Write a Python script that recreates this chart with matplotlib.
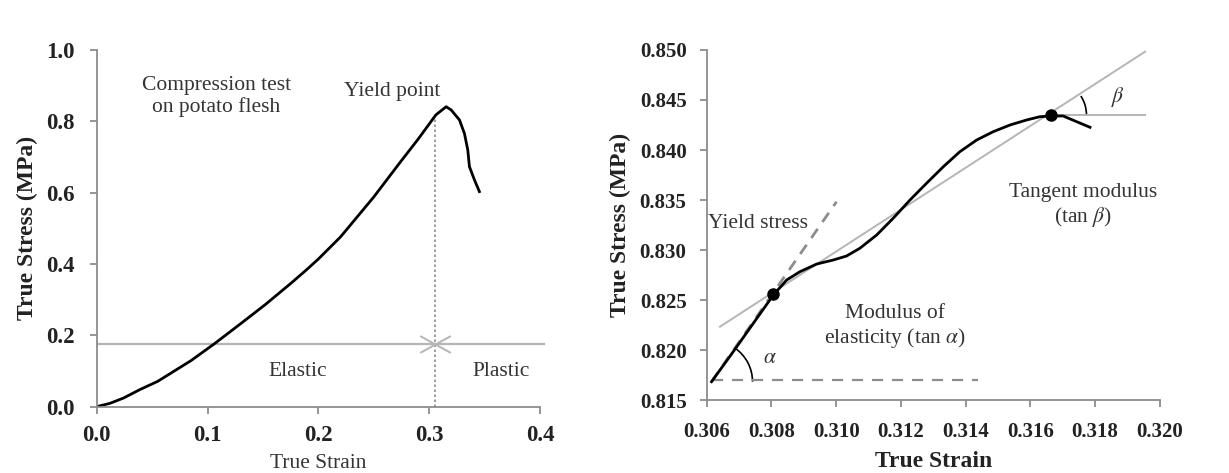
import numpy as np
import matplotlib
matplotlib.use("Agg")
import matplotlib.pyplot as plt
import matplotlib.transforms as mtransforms
from matplotlib.patches import Arc
from matplotlib.path import Path

plt.rcParams['font.family'] = ['Liberation Serif', 'DejaVu Serif']
plt.rcParams['mathtext.fontset'] = 'stix'

# Left panel: full compression curve
strain_full = [0, 0.012, 0.024, 0.039, 0.055, 0.070, 0.085, 0.106, 0.130, 0.152, 0.176,
               0.189, 0.20, 0.22, 0.25, 0.273, 0.29, 0.306, 0.3153, 0.3198, 0.3273,
               0.3318, 0.3348, 0.3363, 0.3408, 0.3453]
stress_full = [0, 0.0095, 0.024, 0.048, 0.071, 0.100, 0.129, 0.176, 0.233, 0.286, 0.348,
               0.383, 0.414, 0.476, 0.588, 0.682, 0.75, 0.818, 0.841, 0.832, 0.804,
               0.766, 0.72, 0.673, 0.636, 0.603]
elastic_limit_stress = 0.177
yield_strain = 0.305
yield_stress_top = 0.81

# Right panel: zoom near yield
strain_zoom = [0.30615, 0.30682, 0.30744, 0.30806, 0.30847, 0.30888, 0.3094, 0.30991,
               0.31032, 0.31073, 0.31125, 0.31176, 0.31228, 0.31279, 0.31331, 0.31382,
               0.31434, 0.31485, 0.31537, 0.31588, 0.31629, 0.31665, 0.31701, 0.31743,
               0.31784]
stress_zoom = [0.81683, 0.81983, 0.82267, 0.8255, 0.8270, 0.82783, 0.8286, 0.8290,
               0.8294, 0.83017, 0.8315, 0.83317, 0.8350, 0.83667, 0.83833, 0.83983,
               0.8410, 0.84183, 0.8425, 0.8430, 0.84333, 0.8434, 0.8434, 0.84283,
               0.84227]
yield_pt = (0.30806, 0.8256)
tangent_pt = (0.31665, 0.8435)
elastic_line_x = [0.30615, 0.31001]
elastic_line_y = [0.81683, 0.83483]
tangent_line_x = [0.30641, 0.31954]
tangent_line_y = [0.82233, 0.84983]
base_y = 0.8170
base_x = [0.30615, 0.31439]
beta_line_x = [0.31665, 0.31954]

GRAY = '#8c8c8c'
LGRAY = '#b5b5b5'
TXT = '#333333'
ANN_FS = 15.5
LAB_FS = 17

fig = plt.figure(figsize=(12.29, 4.73), dpi=100)
ax1 = fig.add_axes([0.0787, 0.1402, 0.3607, 0.7541])
ax2 = fig.add_axes([0.5750, 0.1543, 0.3688, 0.7400])

for ax in (ax1, ax2):
    for s in ('top', 'right'):
        ax.spines[s].set_visible(False)
    for s in ('left', 'bottom'):
        ax.spines[s].set_color(GRAY)
        ax.spines[s].set_linewidth(1.3)
    ax.tick_params(direction='out', length=5, width=1.3, color=GRAY, labelcolor='#222222')

ax1.tick_params(axis='y', labelsize=16.5, pad=11)
ax1.tick_params(axis='x', labelsize=16.5, pad=8)
ax2.tick_params(axis='y', labelsize=15, pad=9.5)
ax2.tick_params(axis='x', labelsize=15, pad=11)

# ---- Left panel ----
ax1.set_xlim(0, 0.4)
ax1.set_ylim(0, 1.0)
ax1.set_xticks([0, 0.1, 0.2, 0.3, 0.4])
ax1.set_xticklabels(['0.0', '0.1', '0.2', '0.3', '0.4'], fontweight='bold')
ax1.set_yticks([0, 0.2, 0.4, 0.6, 0.8, 1.0])
ax1.set_yticklabels(['0.0', '0.2', '0.4', '0.6', '0.8', '1.0'], fontweight='bold')
ax1.plot([0, 0.404], [elastic_limit_stress] * 2, color=LGRAY, lw=1.6, clip_on=False)
ax1.plot([yield_strain] * 2, [0, yield_stress_top], color=GRAY, lw=1.2, ls=(0, (1.5, 1.5)))
xmark = Path([(-1, -0.55), (1, 0.55), (-1, 0.55), (1, -0.55)],
             [Path.MOVETO, Path.LINETO, Path.MOVETO, Path.LINETO])
ax1.plot(yield_strain, elastic_limit_stress, marker=xmark, ms=22, mew=1.4, color=LGRAY)
ax1.plot(strain_full, stress_full, color='black', lw=2, solid_joinstyle='round')
ax1.text(0.108, 0.87, 'Compression test\non potato flesh', ha='center', va='center',
         fontsize=ANN_FS, color=TXT, linespacing=1.15)
ax1.text(0.267, 0.883, 'Yield point', ha='center', va='center', fontsize=ANN_FS, color=TXT)
ax1.text(0.181, 0.098, 'Elastic', ha='center', va='center', fontsize=ANN_FS, color=TXT)
ax1.text(0.365, 0.098, 'Plastic', ha='center', va='center', fontsize=ANN_FS, color=TXT)
ax1.set_xlabel('True Strain', fontsize=ANN_FS, labelpad=6, color=TXT)
ax1.set_ylabel('True Stress (MPa)', fontsize=LAB_FS, fontweight='bold', labelpad=6, color='#222222')

# ---- Right panel ----
ax2.set_xlim(0.306, 0.320)
ax2.set_ylim(0.815, 0.850)
xt = [0.306, 0.308, 0.310, 0.312, 0.314, 0.316, 0.318, 0.320]
yt = [0.815, 0.820, 0.825, 0.830, 0.835, 0.840, 0.845, 0.850]
ax2.set_xticks(xt)
ax2.set_xticklabels([f'{v:.3f}' for v in xt], fontweight='bold')
ax2.set_yticks(yt)
ax2.set_yticklabels([f'{v:.3f}' for v in yt], fontweight='bold')

ax2.plot(tangent_line_x, tangent_line_y, color=LGRAY, lw=1.4)
ax2.plot(beta_line_x, [tangent_pt[1]] * 2, color=LGRAY, lw=1.4)
ax2.plot(elastic_line_x, elastic_line_y, color=GRAY, lw=2, ls=(0, (4, 3)))
ax2.plot(base_x, [base_y] * 2, color=GRAY, lw=1.6, ls=(0, (5, 4)))
ax2.plot(strain_zoom, stress_zoom, color='black', lw=2, solid_joinstyle='round')
ax2.plot(*yield_pt, 'o', color='black', ms=8)
ax2.plot(*tangent_pt, 'o', color='black', ms=8)

ax2.text(0.3076, 0.8327, 'Yield stress', ha='center', va='center', fontsize=ANN_FS, color=TXT)
ax2.text(0.31763, 0.8344, 'Tangent modulus\n(tan $\\beta$)', ha='center', va='center',
         fontsize=ANN_FS, color=TXT, linespacing=1.15)
ax2.text(0.31182, 0.8223, 'Modulus of\nelasticity (tan $\\alpha$)', ha='center', va='center',
         fontsize=ANN_FS, color=TXT, linespacing=1.15)
ax2.text(0.30796, 0.8192, '$\\alpha$', ha='center', va='center', fontsize=ANN_FS, color=TXT)
ax2.text(0.31871, 0.8453, '$\\beta$', ha='center', va='center', fontsize=ANN_FS, color=TXT)
ax2.set_xlabel('True Strain', fontsize=LAB_FS, fontweight='bold', labelpad=6, color='#222222')
ax2.set_ylabel('True Stress (MPa)', fontsize=LAB_FS, fontweight='bold', labelpad=6, color='#222222')


def disp_angle(ax, x0, y0, x1, y1):
    p0 = ax.transData.transform((x0, y0))
    p1 = ax.transData.transform((x1, y1))
    return np.degrees(np.arctan2(p1[1] - p0[1], p1[0] - p0[0]))


def angle_arc(ax, x0, y0, r_in, a1, a2):
    tr = fig.dpi_scale_trans + mtransforms.ScaledTranslation(x0, y0, ax.transData)
    arc = Arc((0, 0), 2 * r_in, 2 * r_in, theta1=a1, theta2=a2, transform=tr,
              color='black', lw=1.2)
    ax.add_patch(arc)


a_alpha = disp_angle(ax2, elastic_line_x[0], elastic_line_y[0], elastic_line_x[1], elastic_line_y[1])
angle_arc(ax2, elastic_line_x[0], elastic_line_y[0], 0.41, 0, a_alpha)
a_beta = disp_angle(ax2, tangent_line_x[0], tangent_line_y[0], tangent_line_x[1], tangent_line_y[1])
angle_arc(ax2, tangent_pt[0], tangent_pt[1], 0.35, 0, a_beta)

fig.savefig('out.png', dpi=100)
